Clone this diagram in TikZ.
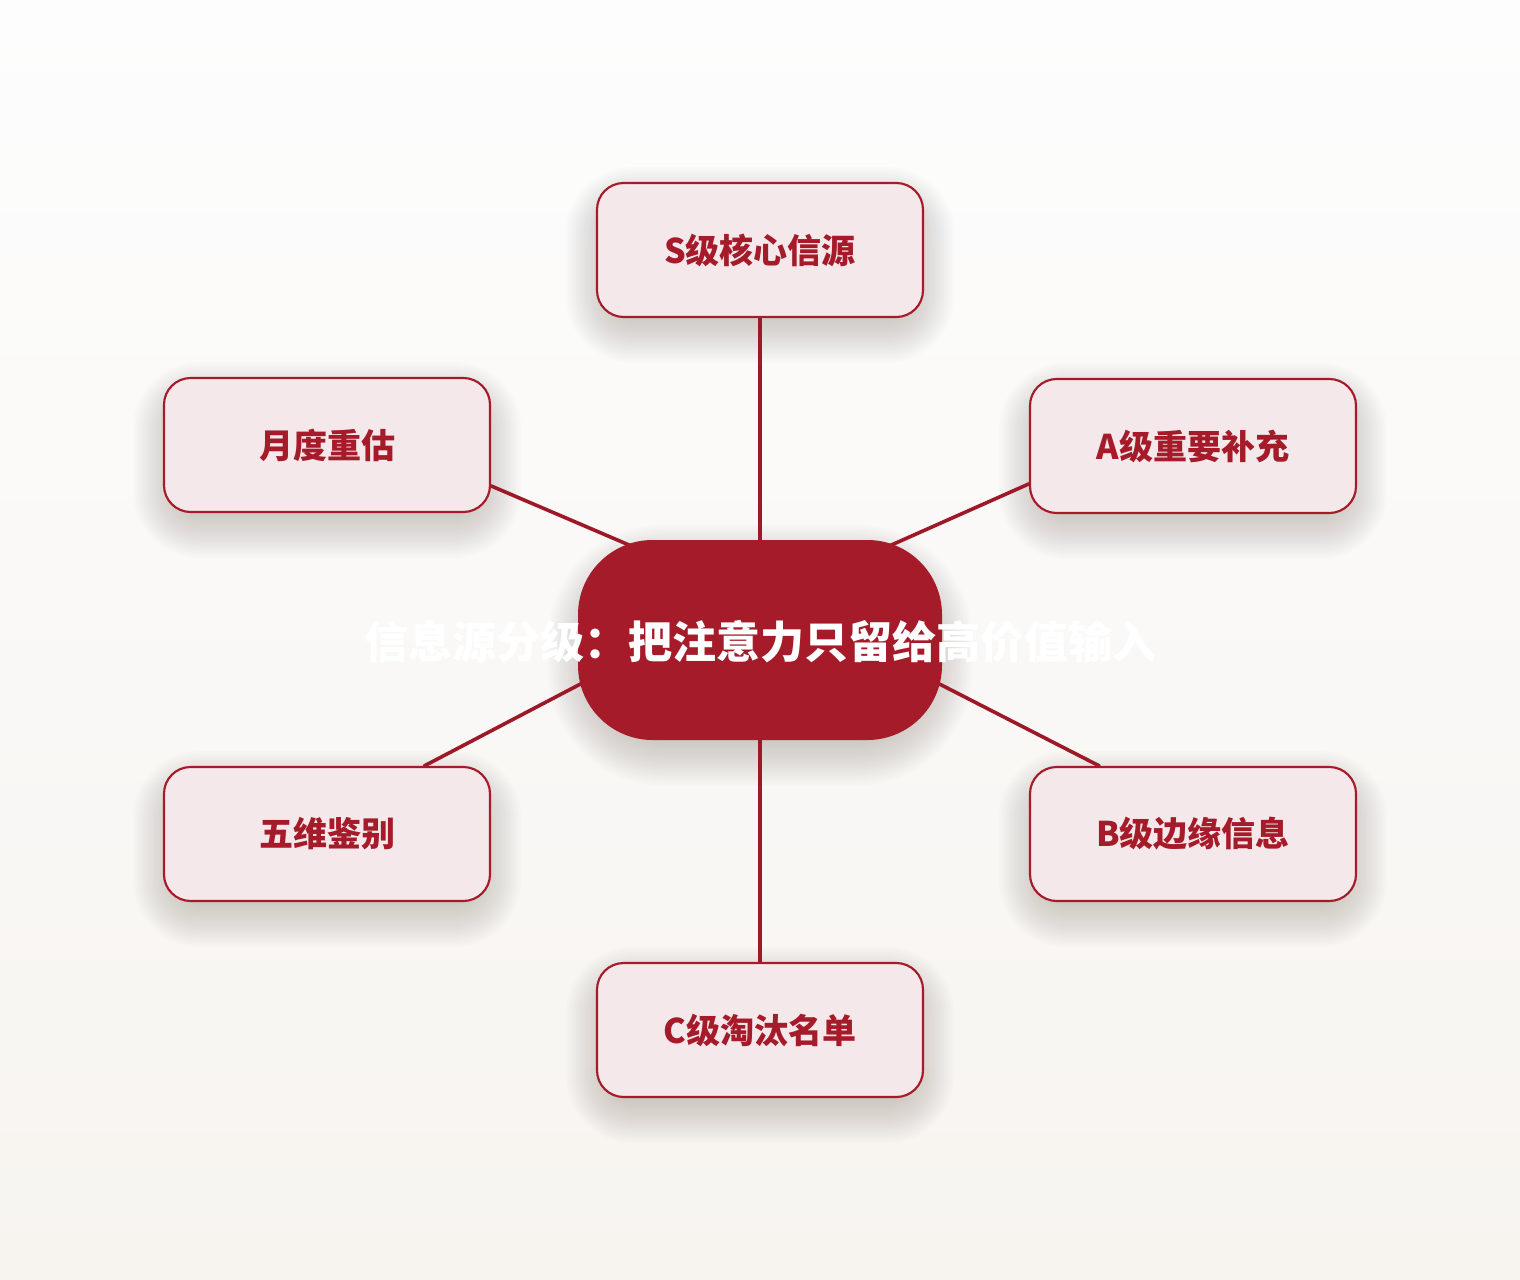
\documentclass[tikz,border=0pt]{standalone}
\usepackage{fontspec}
\setmainfont{Noto Sans CJK SC}
\usetikzlibrary{calc}
\pgfdeclarelayer{back}
\pgfdeclarelayer{shadow}
\pgfdeclarelayer{edges}
\pgfsetlayers{back,shadow,edges,main}
\definecolor{dred}{RGB}{165,27,42}
\definecolor{ered}{RGB}{158,25,40}
\definecolor{lred}{RGB}{244,232,235}
\definecolor{bgtop}{RGB}{253,253,253}
\definecolor{bgbot}{RGB}{247,244,240}
\definecolor{shadowc}{RGB}{60,50,40}
\tikzset{
  leaf/.style={draw=dred, line width=1.6pt, fill=lred, rounded corners=20pt,
    minimum width=244.5pt, minimum height=100.5pt, inner sep=0pt,
    text=dred, font=\bfseries\fontsize{25.5}{30}\selectfont},
  hub/.style={fill=dred, rounded corners=56pt, minimum width=273pt, minimum height=150pt,
    inner sep=0pt},
  hubtext/.style={text=white, font=\bfseries\fontsize{33}{38}\selectfont, inner sep=0pt},
  link/.style={draw=ered, line width=2.7pt, line cap=round, shorten >=-12pt},
  softshade/.style={fill=shadowc, opacity=0.013}
}
% soft shadow: node name, corner radius (px)
\newcommand{\softshadow}[2]{%
  \begin{pgfonlayer}{shadow}
    \foreach \k in {1,...,20}{
      \fill[softshade, rounded corners={(#2+2.5*\k-10)*0.75pt}]
        ($(#1.north west)+(20-2.5*\k,35-2.5*\k)$) rectangle
        ($(#1.south east)+(2.5*\k-20,2.5*\k-5)$);
    }
  \end{pgfonlayer}}
\begin{document}
\begin{tikzpicture}[x=0.75pt, y=-0.75pt]
  \useasboundingbox (0,0) rectangle (1520,1280);
  \begin{pgfonlayer}{back}
    \shade[top color=bgtop, bottom color=bgbot] (0,0) rectangle (1520,1280);
  \end{pgfonlayer}
  \node[hub] (pill) at (760,640) {};
  \node[leaf] (s) at (760,250) {S级核心信源};
  \node[leaf] (m) at (327,445) {月度重估};
  \node[leaf] (a) at (1193,446) {A级重要补充};
  \node[leaf] (w) at (327,834) {五维鉴别};
  \node[leaf] (b) at (1193,834) {B级边缘信息};
  \node[leaf] (c) at (760,1030) {C级淘汰名单};
  \softshadow{pill}{75}
  \softshadow{s}{27}
  \softshadow{m}{27}
  \softshadow{a}{27}
  \softshadow{w}{27}
  \softshadow{b}{27}
  \softshadow{c}{27}
  \begin{pgfonlayer}{edges}
    \draw[link] (s.south) -- (pill.north);
    \draw[link] (c.north) -- (pill.south);
    \draw[link] (m.-14) -- (pill.145);
    \draw[link] (a.193.5) -- (pill.35);
    \draw[link] (w.35.8) -- (pill.194.4);
    \draw[link] (b.144.2) -- (pill.-14.4);
  \end{pgfonlayer}
  \node[hubtext] (title) at (760,642) {信息源分级：把注意力只留给高价值输入};
\end{tikzpicture}
\end{document}
